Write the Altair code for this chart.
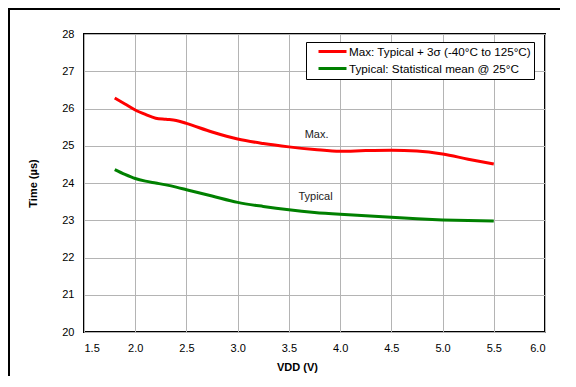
import altair as alt
import pandas as pd

# ---- data ----
vdd = [1.8, 1.9, 2.0, 2.1, 2.2, 2.3, 2.4, 2.5, 2.75, 3.0, 3.25, 3.5, 3.75,
       4.0, 4.25, 4.5, 4.75, 5.0, 5.25, 5.5]
max_time = [26.28, 26.12, 25.96, 25.84, 25.74, 25.71, 25.68, 25.60, 25.37, 25.18,
            25.06, 24.97, 24.90, 24.85, 24.87, 24.88, 24.86, 24.78, 24.64, 24.51]
typ_time = [24.36, 24.23, 24.12, 24.05, 24.00, 23.95, 23.89, 23.82, 23.65, 23.48,
            23.37, 23.28, 23.21, 23.16, 23.12, 23.08, 23.04, 23.01, 22.99, 22.98]
series_names = ["Max: Typical + 3σ (-40°C to 125°C)", "Typical: Statistical mean @ 25°C"]
series_colors = ["#ff0000", "#008000"]
x_ticks = [1.5, 2.0, 2.5, 3.0, 3.5, 4.0, 4.5, 5.0, 5.5, 6.0]
y_ticks = [20, 21, 22, 23, 24, 25, 26, 27, 28]
note_labels = ["Max.", "Typical"]
note_x = [3.77, 3.76]
note_y = [25.30, 23.62]

rows = []
for name, vals in zip(series_names, [max_time, typ_time]):
    for x, y in zip(vdd, vals):
        rows.append({"vdd": x, "time": y, "series": name})
df = pd.DataFrame(rows)
notes = pd.DataFrame({"vdd": note_x, "time": note_y, "label": note_labels})

FONT = "Liberation Sans"

xs = alt.Scale(domain=[1.5, 6.0], nice=False, zero=False)
ys = alt.Scale(domain=[20, 28], nice=False, zero=False)

x_enc = alt.X("vdd:Q", scale=xs,
              axis=alt.Axis(values=x_ticks, format=".1f", title="VDD (V)",
                            grid=True, ticks=False, domain=False,
                            labelPadding=10, labelFontSize=11, labelColor="black",
                            titleFontSize=11, titleFontWeight="bold", titleColor="black",
                            titleX=213, titleY=38, titleBaseline="alphabetic"))
y_enc = alt.Y("time:Q", scale=ys,
              axis=alt.Axis(values=y_ticks, title="Time (µs)", labelOverlap=False,
                            grid=True, ticks=False, domain=False,
                            labelPadding=10, labelFontSize=11, labelColor="black",
                            titleFontSize=11, titleFontWeight="bold", titleColor="black",
                            titleX=-51, titleY=149, titleAngle=270,
                            titleAlign="center", titleBaseline="middle"))

lines = alt.Chart(df).mark_line(interpolate="monotone", strokeWidth=3).encode(
    x=x_enc,
    y=y_enc,
    color=alt.Color("series:N",
                    scale=alt.Scale(domain=series_names, range=series_colors),
                    legend=alt.Legend(orient="none", legendX=222, legendY=8, title=None,
                                      strokeColor="black", fillColor="white", padding=3,
                                      symbolType="M0.6,0H6.2", symbolSize=100,
                                      symbolStrokeWidth=3, labelOffset=27,
                                      labelFontSize=11.7, labelColor="black", labelLimit=0,
                                      rowPadding=3, labelFont=FONT)),
)

texts = alt.Chart(notes).mark_text(fontSize=11, color="#222222", font=FONT).encode(
    x=x_enc, y=y_enc, text="label:N")

frame_left = alt.Chart(pd.DataFrame({"k": [0]})).mark_rule(color="black", strokeWidth=2).encode(
    x=alt.value(-75), y=alt.value(-30), y2=alt.value(400))
frame_top = alt.Chart(pd.DataFrame({"k": [0]})).mark_rule(color="black", strokeWidth=2).encode(
    x=alt.value(-80), x2=alt.value(520), y=alt.value(-25))

chart = alt.layer(lines, texts, frame_left, frame_top).properties(
    width=461, height=298,
    padding={"left": 76, "top": 26, "right": 15, "bottom": 44},
    autosize=alt.AutoSizeParams(type="none"),
).configure(font=FONT).configure_view(
    stroke="black", strokeWidth=2
).configure_axis(gridColor="#b4b4b4", gridWidth=1, labelFont=FONT, titleFont=FONT)

chart.save("out.html", embed_options={"renderer": "svg", "actions": False})
